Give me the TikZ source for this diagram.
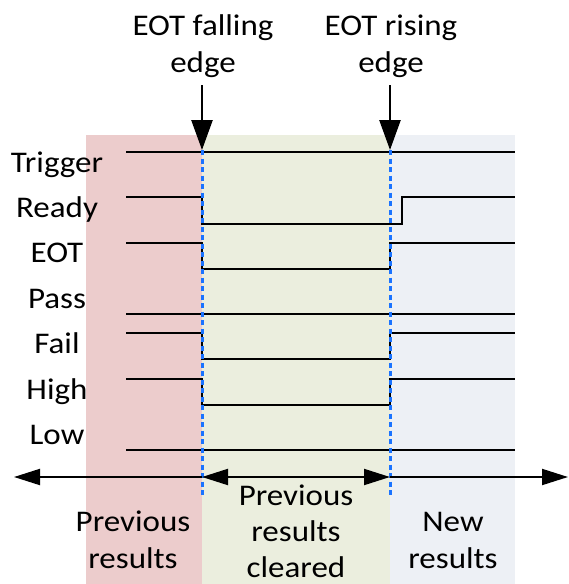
\documentclass[tikz,border=0pt]{standalone}
\usepackage{fontspec}
\setmainfont{Carlito}[FakeStretch=1.1]
\usetikzlibrary{arrows.meta}
\definecolor{regred}{RGB}{236,204,204}
\definecolor{reggreen}{RGB}{235,238,222}
\definecolor{regblue}{RGB}{237,240,245}
\definecolor{dotblue}{RGB}{26,115,255}
\tikzset{
  sig/.style={line width=2pt, line join=miter},
  edgeline/.style={dotblue, line width=3pt, dash pattern=on 5pt off 3.5pt},
  downarrow/.style={line width=2.5pt, -{Triangle[length=30pt,width=21pt]}},
  timearrow/.style={line width=2pt},
  lbl/.style={font=\fontsize{30}{37}\selectfont, inner sep=0pt, anchor=base},
  mlbl/.style={font=\fontsize{30}{37}\selectfont, inner sep=0pt, align=center, anchor=base},
}
\begin{document}
\begin{tikzpicture}[x=1pt,y=-1pt]
\useasboundingbox (0,0) rectangle (568,584);
% regions
\fill[regred] (86,135) rectangle (202,584);
\fill[reggreen] (202,135) rectangle (390,584);
\fill[regblue] (390,135) rectangle (515,584);
% signal names
\node[lbl] (trig) at (57,172) {Trigger};
\node[lbl] (ready) at (57,217.5) {Ready};
\node[lbl] (eot) at (57,262.5) {EOT};
\node[lbl] (pass) at (57,308) {Pass};
\node[lbl] (fail) at (57,353.5) {Fail};
\node[lbl] (high) at (57,399) {High};
\node[lbl] (low) at (57,444.5) {Low};
% waveforms
\draw[sig] (126,152) -- (515,152);
\draw[sig] (126,197) -- (202,197) -- (202,224) -- (402,224) -- (402,197) -- (515,197);
\draw[sig] (126,243) -- (202,243) -- (202,269) -- (390,269) -- (390,243) -- (515,243);
\draw[sig] (126,314) -- (515,314);
\draw[sig] (126,333) -- (202,333) -- (202,359) -- (390,359) -- (390,333) -- (515,333);
\draw[sig] (126,378.5) -- (202,378.5) -- (202,405) -- (390,405) -- (390,378.5) -- (515,378.5);
\draw[sig] (126,450) -- (515,450);
% edge markers
\coordinate (fe top) at (202,150);
\coordinate (fe bot) at (202,497);
\coordinate (re top) at (390,150);
\coordinate (re bot) at (390,497);
\draw[edgeline] (fe top) -- (fe bot);
\draw[edgeline] (re top) -- (re bot);
% top labels and arrows
\node[mlbl] (fall) at (203,72) {EOT falling\\edge};
\node[mlbl] (rise) at (391,72) {EOT rising\\edge};
\coordinate (fa start) at (202,85);
\coordinate (ra start) at (390,85);
\draw[downarrow] (fa start) -- (fe top);
\draw[downarrow] (ra start) -- (re top);
% time arrows
\coordinate (tl) at (14,477);
\coordinate (tf) at (202,477);
\coordinate (tr) at (390,477);
\coordinate (te) at (568,477);
\draw[timearrow, -{Triangle[length=26pt,width=16pt]}] (tf) -- (tl);
\draw[timearrow, {Triangle[length=26pt,width=16pt]}-{Triangle[length=26pt,width=16pt]}] (tf) -- (tr);
\draw[timearrow, -{Triangle[length=26pt,width=16pt]}] (tr) -- (te);
% bottom labels
\node[mlbl] (prev) at (133,568) {Previous\\results};
\node[mlbl, font=\fontsize{30}{36}\selectfont] (clr) at (296,577) {Previous\\results\\cleared};
\node[mlbl] (new) at (453,568) {New\\results};
\end{tikzpicture}
\end{document}
